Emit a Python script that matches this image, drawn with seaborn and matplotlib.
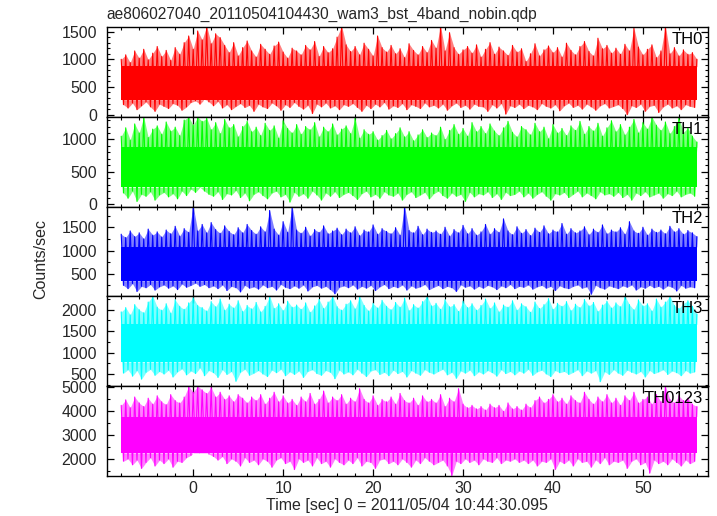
import numpy as np
import pandas as pd
import matplotlib
matplotlib.use("Agg")
import matplotlib.pyplot as plt
import seaborn as sns
from matplotlib.ticker import MultipleLocator

# Estilo general
sns.set_theme(style="white")
plt.rcParams["font.family"] = ["Liberation Sans", "DejaVu Sans"]

# Light curve read off the plot as alternating local maxima / minima:
# a maximum every 0.5 s from t = -8 s, the following minimum 0.25 s later
T_START = -8.0
T_STEP = 0.5

th0_peaks = [1000, 1080, 940, 1150, 1020, 1180, 990, 1110, 1230, 1050,
             1160, 980, 1210, 1090, 1300, 1420, 1180, 1510, 1350, 1600,
             1280, 1460, 1390, 1250, 1120, 1300, 1060, 1210, 1330, 1150,
             1040, 1270, 1180, 1090, 1240, 1310, 1130, 1020, 1200, 1150,
             1080, 1250, 1170, 1320, 1050, 1230, 1120, 1190, 1400, 1600,
             1260, 1140, 1230, 1080, 1290, 1180, 1060, 1420, 1210, 1130,
             1250, 1100, 1190, 1030, 1280, 1160, 1080, 1230, 1120, 1340,
             1200, 1600, 1150, 1480, 1210, 1090, 1170, 1230, 1110, 1260,
             1040, 1180, 1300, 1090, 1220, 1150, 1070, 1250, 1130, 1190,
             960, 1100, 1280, 1060, 1170, 1240, 1120, 1210, 1040, 1290,
             1160, 1080, 1230, 1320, 1140, 1060, 1380, 1190, 1250, 1110,
             1200, 1090, 1270, 1150, 1560, 1220, 1080, 1180, 1260, 1030,
             1150, 1600, 1100, 1210, 1060, 1170, 1090, 1120, 1000]
th0_dips = [180, 120, 210, 90, 160, 230, 140, 60, 190, 150,
            110, 200, 170, 80, 140, 220, 250, 190, 280, 230,
            160, 240, 120, 180, 90, 150, 200, 130, 170, 60,
            190, 140, 110, 210, 160, 80, 180, 130, 220, 150,
            100, 170, 20, 190, 140, 210, 120, 160, 90, 180,
            150, 200, 130, 60, 170, 110, 190, 140, 220, 100,
            160, 130, 200, 90, 180, 150, 110, 210, 140, 170,
            120, 190, 80, 160, 210, 130, 170, 100, 190, 150,
            140, 60, 180, 120, 200, 10, 160, 130, 190, 110,
            170, 140, 90, 200, 150, 120, 180, 70, 160, 210,
            130, 170, 100, 190, 140, 80, 160, 200, 120, 150,
            180, 110, 0, 160, 130, 190, 60, 150, 170, 40,
            140, 190, 120, 160, 90, 180, 150, 130, 170]

th1_peaks = [1050, 1180, 990, 1240, 1100, 1350, 1030, 1160, 1210, 1080,
             1270, 1130, 1190, 1060, 1300, 1350, 1220, 1350, 1280, 1330,
             1150, 1260, 1090, 1310, 1180, 1230, 1040, 1200, 1280, 1120,
             1190, 1060, 1250, 1140, 1210, 1020, 1290, 1170, 1100, 1230,
             1080, 1200, 1150, 1260, 1040, 1190, 1120, 1240, 1070, 1160,
             1210, 1090, 1330, 1020, 1150, 1080, 1120, 990, 1060, 1140,
             1010, 1090, 1180, 1040, 1120, 980, 1070, 1150, 1030, 1100,
             1060, 1190, 1000, 1140, 1230, 1080, 1170, 1050, 1260, 1120,
             1200, 1090, 1240, 1130, 1060, 1180, 1280, 1110, 1040, 1200,
             1150, 1070, 1250, 1120, 1190, 1010, 1230, 1100, 1170, 1060,
             1210, 1140, 1280, 1080, 1200, 1130, 1250, 1050, 1180, 1290,
             1120, 1230, 1070, 1190, 1310, 1100, 1260, 1160, 1350, 1220,
             1140, 1270, 1090, 1200, 1330, 1110, 1180, 1050, 960]
th1_dips = [170, 90, 200, 40, 150, 120, 190, 60, 140, 180,
            110, 160, 80, 200, 130, 230, 180, 260, 200, 150,
            120, 190, 70, 160, 140, 210, 100, 170, 50, 150,
            190, 130, 80, 170, 200, 110, 150, 30, 180, 120,
            160, 90, 200, 140, 60, 170, 120, 190, 100, 150,
            180, 130, 70, 160, 200, 110, 150, 90, 190, 140,
            120, 170, 60, 150, 190, 100, 140, 180, 80, 160,
            200, 130, 90, 170, 120, 150, 40, 180, 110, 160,
            140, 190, 100, 160, 70, 180, 130, 150, 200, 110,
            170, 90, 150, 190, 120, 60, 160, 140, 180, 100,
            150, 200, 110, 170, 130, 80, 190, 140, 160, 120,
            180, 100, 150, 60, 170, 130, 190, 110, 140, 170,
            90, 160, 130, 200, 110, 150, 170, 120, 180]

th2_peaks = [1350, 1280, 1420, 1300, 1380, 1250, 1460, 1330, 1400, 1290,
             1440, 1360, 1520, 1310, 1470, 1390, 1950, 1420, 1560, 1380,
             1600, 1450, 1370, 1530, 1410, 1340, 1490, 1380, 1560, 1430,
             1350, 1510, 1400, 1860, 1460, 1330, 1620, 1390, 1950, 1440,
             1370, 1500, 1310, 1450, 1390, 1530, 1360, 1420, 1480, 1340,
             1460, 1380, 1510, 1320, 1440, 1400, 1550, 1350, 1470, 1410,
             1360, 1490, 1330, 1950, 1430, 1380, 1520, 1340, 1460, 1390,
             1420, 1350, 1500, 1310, 1450, 1380, 1540, 1360, 1470, 1330,
             1400, 1560, 1350, 1470, 1390, 1680, 1420, 1340, 1510, 1370,
             1450, 1320, 1480, 1390, 1530, 1360, 1440, 1400, 1580, 1350,
             1470, 1380, 1420, 1510, 1340, 1460, 1390, 1550, 1360, 1440,
             1400, 1490, 1350, 1620, 1420, 1370, 1500, 1330, 1460, 1390,
             1440, 1360, 1520, 1400, 1470, 1350, 1430, 1380, 1300]
th2_dips = [250, 180, 290, 120, 230, 200, 270, 150, 220, 260,
            190, 240, 160, 280, 210, 250, 300, 230, 270, 200,
            240, 180, 260, 140, 230, 200, 110, 250, 190, 220,
            170, 260, 200, 230, 150, 270, 210, 180, 240, 190,
            260, 130, 220, 250, 190, 230, 160, 70, 210, 240,
            200, 260, 170, 230, 190, 250, 140, 220, 270, 180,
            230, 200, 260, 150, 240, 190, 220, 270, 160, 210,
            250, 180, 230, 200, 120, 260, 210, 240, 170, 230,
            190, 250, 220, 160, 240, 200, 270, 180, 230, 210,
            260, 170, 220, 250, 190, 230, 140, 240, 200, 180,
            230, 260, 190, 220, 60, 250, 200, 170, 240, 210,
            180, 240, 210, 260, 150, 220, 190, 250, 200, 230,
            170, 240, 210, 130, 250, 190, 220, 200, 240]

th3_peaks = [1950, 2050, 1880, 2120, 2000, 1930, 2180, 2320, 2060, 1990,
             2140, 1920, 2230, 2080, 2010, 2160, 2280, 2100, 2050, 1970,
             2190, 2070, 2250, 1990, 2130, 2040, 2210, 1960, 2100, 2020,
             2170, 1950, 2080, 2320, 2030, 2140, 1980, 2200, 2060, 2110,
             2010, 2160, 1940, 2090, 2240, 2030, 2180, 2320, 2070, 1990,
             2130, 2210, 2020, 2320, 2100, 1970, 2150, 2040, 2220, 2080,
             2000, 2170, 2060, 2270, 1980, 2120, 2040, 2190, 2320, 2090,
             2150, 2010, 2230, 2070, 2120, 1960, 2200, 2050, 2140, 1990,
             2100, 2250, 2030, 2160, 1950, 2110, 2060, 2210, 1990, 2140,
             2070, 1940, 2180, 2030, 2120, 2260, 2010, 2150, 2080, 2190,
             1980, 2130, 2050, 2240, 2090, 2170, 1960, 2110, 2200, 2040,
             2160, 2070, 2320, 2120, 2000, 2230, 2090, 2140, 1970, 2250,
             2060, 2180, 2320, 2100, 2030, 2150, 2210, 2080, 1900]
th3_dips = [520, 600, 450, 580, 380, 540, 610, 470, 560, 500,
            590, 430, 550, 620, 480, 570, 510, 640, 460, 580,
            530, 420, 600, 490, 560, 330, 540, 610, 470, 520,
            580, 500, 440, 590, 530, 610, 460, 550, 490, 570,
            420, 560, 600, 510, 470, 580, 540, 390, 590, 500,
            550, 480, 610, 520, 440, 570, 600, 490, 540, 460,
            590, 510, 560, 430, 580, 520, 470, 600, 540, 500,
            560, 610, 480, 540, 400, 570, 520, 590, 460, 550,
            500, 580, 530, 450, 600, 510, 560, 480, 570, 520,
            610, 470, 550, 590, 500, 440, 580, 530, 560, 490,
            540, 600, 460, 570, 520, 580, 320, 550, 490, 600,
            520, 470, 590, 540, 500, 560, 430, 580, 510, 550,
            600, 490, 570, 530, 460, 580, 520, 550, 600]

th0123_peaks = [4250, 4480, 4150, 4600, 4350, 4200, 4550, 4300, 4650, 4400,
                4280, 4700, 4450, 4350, 4600, 5060, 4800, 5060, 4900, 4750,
                5000, 4600, 4800, 4500, 4650, 4400, 4700, 4550, 4350, 4600,
                4450, 4700, 4300, 4550, 4800, 4400, 4650, 4350, 4500, 4250,
                4600, 4400, 4750, 4300, 4500, 4850, 4350, 4600, 4450, 4700,
                4300, 4550, 4400, 4950, 4500, 4350, 4650, 4250, 4500, 4400,
                4600, 4300, 4750, 4450, 4350, 4550, 4250, 4650, 4400, 4500,
                4350, 4700, 4200, 4550, 4400, 4950, 4300, 4150, 4250, 4100,
                4200, 4050, 4300, 4150, 4250, 4000, 4350, 4100, 4200, 4050,
                4300, 4150, 4450, 4600, 4350, 4500, 4700, 4400, 4550, 4300,
                4650, 4450, 4350, 4800, 4500, 4300, 4600, 4400, 4700, 4350,
                4550, 4250, 4650, 4450, 4800, 4350, 4500, 4600, 4300, 4700,
                4400, 5060, 4500, 4350, 4650, 4450, 4550, 4300, 4200]
th0123_dips = [1900, 2000, 1750, 1950, 1600, 1850, 2050, 1700, 1950, 1800,
               2000, 1650, 1900, 1850, 2050, 2150, 2350, 2250, 2400, 2200,
               2100, 1950, 2100, 1800, 2000, 1900, 1700, 2050, 1850, 1950,
               1750, 2000, 1900, 1650, 1950, 2050, 1800, 1900, 1550, 2000,
               1850, 1950, 1700, 2050, 1800, 1900, 1650, 2000, 1850, 1750,
               1950, 1800, 2050, 1700, 1900, 1850, 1600, 1950, 2000, 1800,
               1900, 1750, 2000, 1850, 1650, 1950, 1800, 2050, 1900, 1750,
               1850, 1950, 1700, 1300, 1900, 1800, 2000, 1850, 1950, 1750,
               2000, 1900, 1850, 2050, 1800, 1950, 1900, 2000, 1850, 1950,
               1800, 1950, 1700, 1900, 1850, 2000, 1550, 1900, 1800, 1950,
               1700, 2000, 1850, 1900, 1650, 1950, 1800, 2050, 1750, 1900,
               1850, 1950, 1600, 1900, 2000, 1750, 1850, 1400, 1950, 1800,
               1900, 1750, 2000, 1850, 1700, 1950, 1800, 1900, 1850]

# solid core of each band, where the curve crosses every pixel (counts/sec)
core_lo = [270, 260, 350, 780, 2250]
core_hi = [870, 880, 1080, 1660, 3780]

bands = ["TH0", "TH1", "TH2", "TH3", "TH0123"]
peaks = [th0_peaks, th1_peaks, th2_peaks, th3_peaks, th0123_peaks]
dips = [th0_dips, th1_dips, th2_dips, th3_dips, th0123_dips]
colors = ["#ff0000", "#00ff00", "#0000ff", "#00ffff", "#ff00ff"]
ylims = [(-43, 1576), (-42, 1347), (14, 1941), (218, 2312), (1290, 5060)]
major_step = [500, 500, 500, 500, 1000]
minor_step = [100, 100, 250, 250, 500]


def light_curve(pk, dp):
    t = T_START + T_STEP * np.arange(len(pk))
    x = np.empty(len(pk) + len(dp))
    y = np.empty(len(pk) + len(dp))
    x[0::2] = t
    x[1::2] = t[:len(dp)] + T_STEP / 2
    y[0::2] = pk
    y[1::2] = dp
    keep = x <= t[-1]
    return pd.DataFrame({"time": x[keep], "rate": y[keep]})


fig, axes = plt.subplots(5, 1, figsize=(7.17, 5.16), dpi=100, sharex=True)
fig.subplots_adjust(left=0.149, right=0.987, top=0.947, bottom=0.078, hspace=0)

for i, ax in enumerate(axes):
    c = colors[i]
    lc = light_curve(peaks[i], dips[i])
    tips = lc.iloc[0::2]
    lows = lc.iloc[1::2]
    t0, t1 = lc["time"].min(), lc["time"].max()
    # pale fringe between the solid core and the spike tips
    ax.fill_between(tips["time"], core_hi[i], tips["rate"], color=c,
                    alpha=0.5, lw=0)
    ax.fill_between(lows["time"], lows["rate"], core_lo[i], color=c,
                    alpha=0.5, lw=0)
    ax.fill_between([t0, t1], core_lo[i], core_hi[i], color=c, lw=0)
    sns.lineplot(data=lc, x="time", y="rate", ax=ax, color=c, lw=0.8,
                 estimator=None, sort=False)

    ax.set_ylim(*ylims[i])
    ax.set_xlim(-9.6, 57.2)
    ax.yaxis.set_major_locator(MultipleLocator(major_step[i]))
    ax.yaxis.set_minor_locator(MultipleLocator(minor_step[i]))
    ax.xaxis.set_major_locator(MultipleLocator(10))
    ax.xaxis.set_minor_locator(MultipleLocator(2))
    ax.tick_params(which="both", direction="in", top=True, right=True,
                   bottom=True, left=True, color="black", labelsize=11.5)
    ax.tick_params(axis="y", pad=7)
    ax.tick_params(which="major", length=5, width=0.9)
    ax.tick_params(which="minor", length=2.5, width=0.8)
    for s in ax.spines.values():
        s.set_color("black")
        s.set_linewidth(1.0)
    ax.set_ylabel("")
    ax.set_xlabel("")
    ax.text(0.992, 0.95, bands[i], transform=ax.transAxes, ha="right",
            va="top", fontsize=12, color="black")

axes[0].set_title("ae806027040_20110504104430_wam3_bst_4band_nobin.qdp",
                  loc="left", fontsize=11.2, pad=6)
axes[-1].set_xlabel("Time [sec] 0 = 2011/05/04 10:44:30.095", fontsize=11.5,
                    labelpad=2)
fig.text(0.057, 1 - 259 / 516, "Counts/sec", rotation=90, ha="center",
         va="center", fontsize=11.5)

fig.savefig("out.png", dpi=100)
plt.close(fig)
